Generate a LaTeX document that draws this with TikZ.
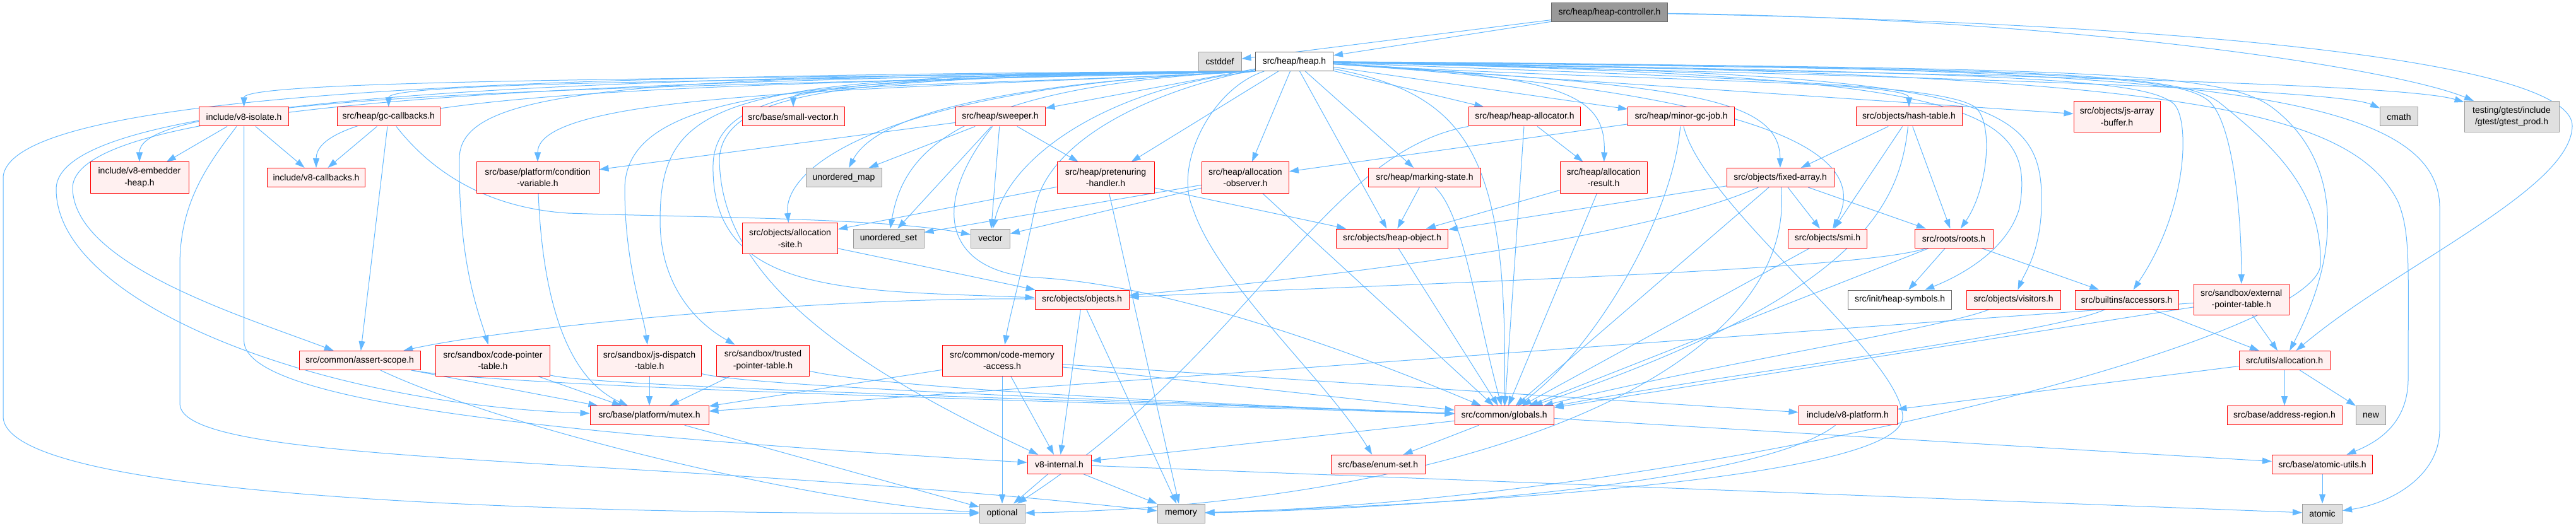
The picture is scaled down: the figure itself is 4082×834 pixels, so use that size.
\documentclass[tikz,border=0pt]{standalone}
\usepackage{fontspec}
\setmainfont{Liberation Sans}
\usetikzlibrary{arrows.meta, calc}
\definecolor{edgeblue}{HTML}{63B8FF}
\definecolor{hdrline}{HTML}{FF0000}
\definecolor{hdrfill}{HTML}{FFF0F0}
\definecolor{sysfill}{HTML}{E0E0E0}
\definecolor{sysline}{HTML}{999999}
\definecolor{mainfill}{HTML}{999999}
\definecolor{mainline}{HTML}{666666}
\pgfdeclarelayer{background}
\pgfsetlayers{background,main}
\tikzset{hdr/.style={rectangle,draw=hdrline,fill=hdrfill,line width=0.5pt,align=center,inner xsep=3pt,inner ysep=2pt,minimum height=15pt,font=\fontsize{7pt}{9.3pt}\selectfont},
syshdr/.style={hdr,draw=sysline,fill=sysfill},
whitehdr/.style={hdr,draw=mainline,fill=white},
mainhdr/.style={hdr,draw=mainline,fill=mainfill},
twoline/.style={minimum height=24.5pt},
incl/.style={draw=edgeblue,line width=0.5pt,-{Triangle[length=7.5pt,width=5pt]}},
fanout/.style={to path={.. controls ($(\tikztostart)!0.5!(\tikztotarget|-\tikztostart)+(0,#1)$) and ($(\tikztotarget|-\tikztostart)+(0,#1)$) .. (\tikztotarget) \tikztonodes}},
fanout/.default=20}

\begin{document}
\begin{tikzpicture}[x=0.5pt,y=-0.5pt]
\useasboundingbox (0,0) rectangle (4082,834);
\node[mainhdr,minimum width=91.75pt] (ctrl) at (2550.5,20) {src/heap/heap-controller.h};
\node[whitehdr,minimum width=61.5pt] (heap) at (2051,97.5) {src/heap/heap.h};
\node[syshdr,minimum width=34pt] (cstddef) at (1933,97.5) {cstddef};
\node[hdr,minimum width=71pt] (v8iso) at (386.6,185) {include/v8-isolate.h};
\node[hdr,minimum width=81.5pt] (gccb) at (615.8,185) {src/heap/gc-callbacks.h};
\node[hdr,minimum width=81pt] (smallvec) at (1257,185) {src/base/small-vector.h};
\node[hdr,minimum width=71pt] (sweeper) at (1585,185) {src/heap/sweeper.h};
\node[hdr,minimum width=88.5pt] (halloc) at (2416,185) {src/heap/heap-allocator.h};
\node[hdr,minimum width=84.5pt] (minorgc) at (2664,185) {src/heap/minor-gc-job.h};
\node[hdr,minimum width=84pt] (hashtab) at (3025,185) {src/objects/hash-table.h};
\node[hdr,twoline,minimum width=68.5pt] (jsab) at (3354.5,185) {src/objects/js-array\\-buffer.h};
\node[syshdr,minimum width=30pt] (cmath) at (3801.5,185) {cmath};
\node[syshdr,twoline,minimum width=75pt] (gtest) at (3980,185) {testing/gtest/include\\/gtest/gtest\_prod.h};
\node[hdr,twoline,minimum width=78pt] (embed) at (221,281.5) {include/v8-embedder\\-heap.h};
\node[hdr,minimum width=77.5pt] (v8cb) at (501,281.5) {include/v8-callbacks.h};
\node[hdr,twoline,minimum width=97pt] (condvar) at (852,281.5) {src/base/platform/condition\\-variable.h};
\node[syshdr,minimum width=60pt] (umap) at (1337,281.5) {unordered\_map};
\node[hdr,twoline,minimum width=77pt] (pretenure) at (1752,281.5) {src/heap/pretenuring\\-handler.h};
\node[hdr,twoline,minimum width=69pt] (allocobs) at (1973.4,281.5) {src/heap/allocation\\-observer.h};
\node[hdr,minimum width=89pt] (marking) at (2257.5,281.5) {src/heap/marking-state.h};
\node[hdr,twoline,minimum width=69pt] (allocres) at (2541,281.5) {src/heap/allocation\\-result.h};
\node[hdr,minimum width=85pt] (fixarr) at (2821,281.5) {src/objects/fixed-array.h};
\node[hdr,twoline,minimum width=75.5pt] (allocsite) at (1252,378) {src/objects/allocation\\-site.h};
\node[syshdr,minimum width=56pt] (uset) at (1408,378) {unordered\_set};
\node[syshdr,minimum width=31pt] (vector) at (1569.4,378) {vector};
\node[hdr,minimum width=88.5pt] (heapobj) at (2206,378) {src/objects/heap-object.h};
\node[hdr,minimum width=62.5pt] (smi) at (2896,378) {src/objects/smi.h};
\node[hdr,minimum width=62pt] (roots) at (3096,378) {src/roots/roots.h};
\node[hdr,minimum width=74.5pt] (objects) at (1714.5,475) {src/objects/objects.h};
\node[whitehdr,minimum width=82pt] (heapsym) at (3010.6,475) {src/init/heap-symbols.h};
\node[hdr,minimum width=74.5pt] (visitors) at (3190.7,475) {src/objects/visitors.h};
\node[hdr,minimum width=82pt] (accessors) at (3370,475) {src/builtins/accessors.h};
\node[hdr,twoline,minimum width=75.5pt] (extptr) at (3551.7,475) {src/sandbox/external\\-pointer-table.h};
\node[hdr,minimum width=96pt] (assertsc) at (570,571.5) {src/common/assert-scope.h};
\node[hdr,twoline,minimum width=90.5pt] (codeptr) at (781,571.5) {src/sandbox/code-pointer\\-table.h};
\node[hdr,twoline,minimum width=82.5pt] (jsdisp) at (1029,571.5) {src/sandbox/js-dispatch\\-table.h};
\node[hdr,twoline,minimum width=73.5pt] (trusted) at (1209,571.5) {src/sandbox/trusted\\-pointer-table.h};
\node[hdr,twoline,minimum width=95pt] (codemem) at (1588,571.5) {src/common/code-memory\\-access.h};
\node[hdr,minimum width=72pt] (ualloc) at (3620,571.5) {src/utils/allocation.h};
\node[hdr,minimum width=94pt] (mutex) at (1029,658.7) {src/base/platform/mutex.h};
\node[hdr,minimum width=78.5pt] (globals) at (2383.6,658.7) {src/common/globals.h};
\node[hdr,minimum width=78pt] (v8plat) at (2928,658.7) {include/v8-platform.h};
\node[hdr,minimum width=91pt] (addrreg) at (3620,658.7) {src/base/address-region.h};
\node[syshdr,minimum width=23.5pt] (newhdr) at (3757,658.7) {new};
\node[hdr,minimum width=50.5pt] (v8int) at (1678.5,736.3) {v8-internal.h};
\node[hdr,minimum width=74.5pt] (enumset) at (2183.7,736.3) {src/base/enum-set.h};
\node[hdr,minimum width=79.5pt] (atomutil) at (3680,736.3) {src/base/atomic-utils.h};
\node[syshdr,minimum width=36pt] (optional) at (1588,814) {optional};
\node[syshdr,minimum width=37.5pt] (memory) at (1871.5,814) {memory};
\node[syshdr,minimum width=31.5pt] (atomic) at (3680,814) {atomic};

\begin{pgfonlayer}{background}
\draw[incl] (ctrl) -- (cstddef);
\draw[incl] (ctrl) -- (heap);
\draw[incl] (ctrl) .. controls (3300,30) and (3800,110) .. (gtest);
\draw[incl] (ctrl) .. controls (3600,40) and (4078,110) .. (4076,200) .. controls (4074,300) and (3800,420) .. (ualloc);
\draw[incl] (heap.south west) to[fanout=12] (v8iso);
\draw[incl] (heap.south west) to[fanout=15] (gccb);
\draw[incl] (heap.south west) to[fanout=22] (v8cb);
\draw[incl] (heap.south west) to[fanout=26] (embed);
\draw[incl] (heap.south west) to[fanout=30] (condvar);
\draw[incl] (heap.south west) to[fanout=20] (smallvec);
\draw[incl] (heap.south west) .. controls (900,118) and (20,140) .. (5,280) -- (5,660) .. controls (5,800) and (1000,815) .. (optional);
\draw[incl] (heap.south west) .. controls (900,122) and (89,150) .. (89,300) .. controls (89,480) and (500,640) .. (mutex);
\draw[incl] (heap.south west) .. controls (900,128) and (110,160) .. (115,300) .. controls (120,420) and (380,500) .. (assertsc);
\draw[incl] (heap.south west) .. controls (1000,120) and (730,140) .. (728,250) .. controls (726,420) and (760,500) .. (codeptr);
\draw[incl] (heap.south west) .. controls (1300,125) and (990,140) .. (990,300) .. controls (990,420) and (1020,500) .. (jsdisp);
\draw[incl] (heap.south west) .. controls (1150,118) and (1046,150) .. (1046,350) .. controls (1046,450) and (1100,510) .. (trusted);
\draw[incl] (heap.south west) .. controls (1400,125) and (1150,130) .. (1140,250) .. controls (1140,420) and (1300,560) .. (v8int);
\draw[incl] (heap.south west) .. controls (1350,122) and (1135,130) .. (1130,260) .. controls (1125,470) and (1350,460) .. (objects);
\draw[incl] (heap.south west) .. controls (1600,130) and (1390,180) .. (umap);
\draw[incl] (heap.south west) .. controls (1500,135) and (1430,250) .. (uset);
\draw[incl] (heap.south west) .. controls (1420,135) and (1240,260) .. (allocsite);
\draw[incl] (heap.south west) .. controls (1750,140) and (1600,250) .. (vector);
\draw[incl] (heap) -- (sweeper);
\draw[incl] (heap) -- (pretenure);
\draw[incl] (heap) -- (allocobs);
\draw[incl] (heap) .. controls (1800,150) and (1660,230) .. (1640,330) .. controls (1620,430) and (1600,500) .. (codemem);
\draw[incl] (heap) .. controls (1920,140) and (1860,260) .. (1890,330) .. controls (1930,450) and (2100,600) .. (enumset);
\draw[incl] (heap) -- (heapobj);
\draw[incl] (heap) -- (marking);
\draw[incl] (heap) .. controls (2330,150) and (2390,250) .. (globals);
\draw[incl] (heap) -- (halloc);
\draw[incl] (heap) .. controls (2480,120) and (2545,150) .. (allocres);
\draw[incl] (heap) -- (minorgc);
\draw[incl] (heap) .. controls (2650,135) and (2820,150) .. (fixarr);
\draw[incl] (heap) .. controls (2700,140) and (2980,220) .. (smi);
\draw[incl] (heap) to[fanout=30] (hashtab);
\draw[incl] (heap) .. controls (2800,125) and (3080,135) .. (3130,170) .. controls (3160,195) and (3150,300) .. (roots);
\draw[incl] (heap) -- (jsab);
\draw[incl] (heap) .. controls (3100,120) and (3230,160) .. (3200,330) .. controls (3180,400) and (3100,440) .. (heapsym);
\draw[incl] (heap) .. controls (3150,118) and (3240,150) .. (3235,330) .. controls (3232,400) and (3210,430) .. (visitors);
\draw[incl] (heap) .. controls (3200,115) and (3400,125) .. (3445,165) .. controls (3470,190) and (3468,330) .. (accessors);
\draw[incl] (heap) .. controls (3250,110) and (3450,118) .. (3500,160) .. controls (3540,195) and (3552,350) .. (extptr);
\draw[incl] (heap) .. controls (3300,108) and (3520,112) .. (3600,170) .. controls (3700,245) and (3720,380) .. (ualloc);
\draw[incl] (heap) .. controls (3250,108) and (3460,115) .. (3520,165) .. controls (3600,230) and (3680,300) .. (3677,420) .. controls (3670,540) and (2700,790) .. (memory);
\draw[incl] (heap) .. controls (3400,115) and (3720,160) .. (3800,320) .. controls (3820,370) and (3816,420) .. (3816,600) .. controls (3816,670) and (3770,700) .. (atomutil);
\draw[incl] (heap) .. controls (3400,105) and (3866,130) .. (3866,330) -- (3866,680) .. controls (3866,760) and (3780,800) .. (atomic);
\draw[incl] (heap) .. controls (3000,120) and (3700,140) .. (cmath);
\draw[incl] (heap) .. controls (3000,115) and (3800,130) .. (gtest);
\draw[incl] (v8iso) -- (embed);
\draw[incl] (v8iso) -- (v8cb);
\draw[incl] (v8iso.south) -- (386.6,540) .. controls (386.6,640) and (900,690) .. (v8int);
\draw[incl] (v8iso) .. controls (330,260) and (285,320) .. (285,420) -- (285,640) .. controls (285,740) and (1000,720) .. (memory);
\draw[incl] (gccb) -- (v8cb);
\draw[incl] (gccb) -- (assertsc);
\draw[incl] (gccb) .. controls (690,280) and (780,330) .. (900,338) .. controls (1100,345) and (1400,345) .. (vector);
\draw[incl] (condvar) .. controls (860,480) and (900,600) .. (mutex);
\draw[incl] (sweeper) -- (condvar);
\draw[incl] (sweeper) -- (umap);
\draw[incl] (sweeper) -- (uset);
\draw[incl] (sweeper) -- (vector);
\draw[incl] (sweeper) -- (pretenure);
\draw[incl] (sweeper) .. controls (1470,330) and (1500,430) .. (1640,440) .. controls (1850,450) and (2150,560) .. (globals);
\draw[incl] (pretenure) -- (allocsite);
\draw[incl] (pretenure) -- (memory);
\draw[incl] (pretenure) -- (heapobj);
\draw[incl] (allocobs) -- (uset);
\draw[incl] (allocobs) -- (vector);
\draw[incl] (allocobs) -- (globals);
\draw[incl] (allocsite) -- (objects);
\draw[incl] (halloc) .. controls (2100,240) and (1980,560) .. (optional);
\draw[incl] (halloc) -- (globals);
\draw[incl] (halloc) -- (allocres);
\draw[incl] (minorgc) -- (allocobs);
\draw[incl] (minorgc) .. controls (2650,350) and (2520,560) .. (globals);
\draw[incl] (minorgc) .. controls (2700,330) and (3010,560) .. (3015,660) .. controls (3020,760) and (2300,800) .. (memory);
\draw[incl] (marking) -- (heapobj);
\draw[incl] (marking) .. controls (2320,340) and (2340,500) .. (globals);
\draw[incl] (allocres) -- (heapobj);
\draw[incl] (allocres) -- (globals);
\draw[incl] (heapobj) -- (globals);
\draw[incl] (fixarr) -- (heapobj);
\draw[incl] (fixarr) .. controls (2600,380) and (2100,440) .. (objects);
\draw[incl] (fixarr) -- (smi);
\draw[incl] (fixarr) -- (roots);
\draw[incl] (fixarr) -- (globals);
\draw[incl] (fixarr) .. controls (2850,600) and (2300,800) .. (optional);
\draw[incl] (hashtab) -- (fixarr);
\draw[incl] (hashtab) -- (smi);
\draw[incl] (hashtab) -- (roots);
\draw[incl] (hashtab) .. controls (3010,330) and (2940,470) .. (globals);
\draw[incl] (smi) -- (globals);
\draw[incl] (roots) .. controls (2950,430) and (2200,450) .. (objects);
\draw[incl] (roots) -- (heapsym);
\draw[incl] (roots) -- (accessors);
\draw[incl] (roots) -- (globals);
\draw[incl] (objects) .. controls (1300,470) and (800,520) .. (assertsc);
\draw[incl] (objects) -- (v8int);
\draw[incl] (objects) -- (memory);
\draw[incl] (visitors) .. controls (3080,520) and (2700,580) .. (globals);
\draw[incl] (accessors) .. controls (3250,530) and (2750,590) .. (globals);
\draw[incl] (accessors) -- (ualloc);
\draw[incl] (extptr) -- (ualloc);
\draw[incl] (extptr) -- (globals);
\draw[incl] (extptr) -- (mutex);
\draw[incl] (assertsc) -- (mutex);
\draw[incl] (assertsc) .. controls (800,615) and (1800,640) .. (globals);
\draw[incl] (assertsc) .. controls (800,680) and (1300,800) .. (optional);
\draw[incl] (codeptr) -- (mutex);
\draw[incl] (codeptr) .. controls (950,615) and (1900,640) .. (globals);
\draw[incl] (jsdisp) -- (mutex);
\draw[incl] (jsdisp) .. controls (1200,615) and (1900,640) .. (globals);
\draw[incl] (trusted) -- (mutex);
\draw[incl] (trusted) .. controls (1400,615) and (1900,640) .. (globals);
\draw[incl] (codemem) -- (mutex);
\draw[incl] (codemem) -- (globals);
\draw[incl] (codemem) -- (v8plat);
\draw[incl] (codemem) -- (optional);
\draw[incl] (codemem) -- (v8int);
\draw[incl] (mutex) -- (optional);
\draw[incl] (globals) -- (v8int);
\draw[incl] (globals) -- (enumset);
\draw[incl] (globals) -- (atomutil);
\draw[incl] (ualloc) -- (v8plat);
\draw[incl] (ualloc) -- (addrreg);
\draw[incl] (ualloc) -- (newhdr);
\draw[incl] (v8plat) .. controls (2800,760) and (2300,805) .. (memory);
\draw[incl] (v8int) -- (optional);
\draw[incl] (v8int) -- (memory);
\draw[incl] (v8int) -- (atomic);
\draw[incl] (atomutil) -- (atomic);
\end{pgfonlayer}
\end{tikzpicture}
\end{document}
